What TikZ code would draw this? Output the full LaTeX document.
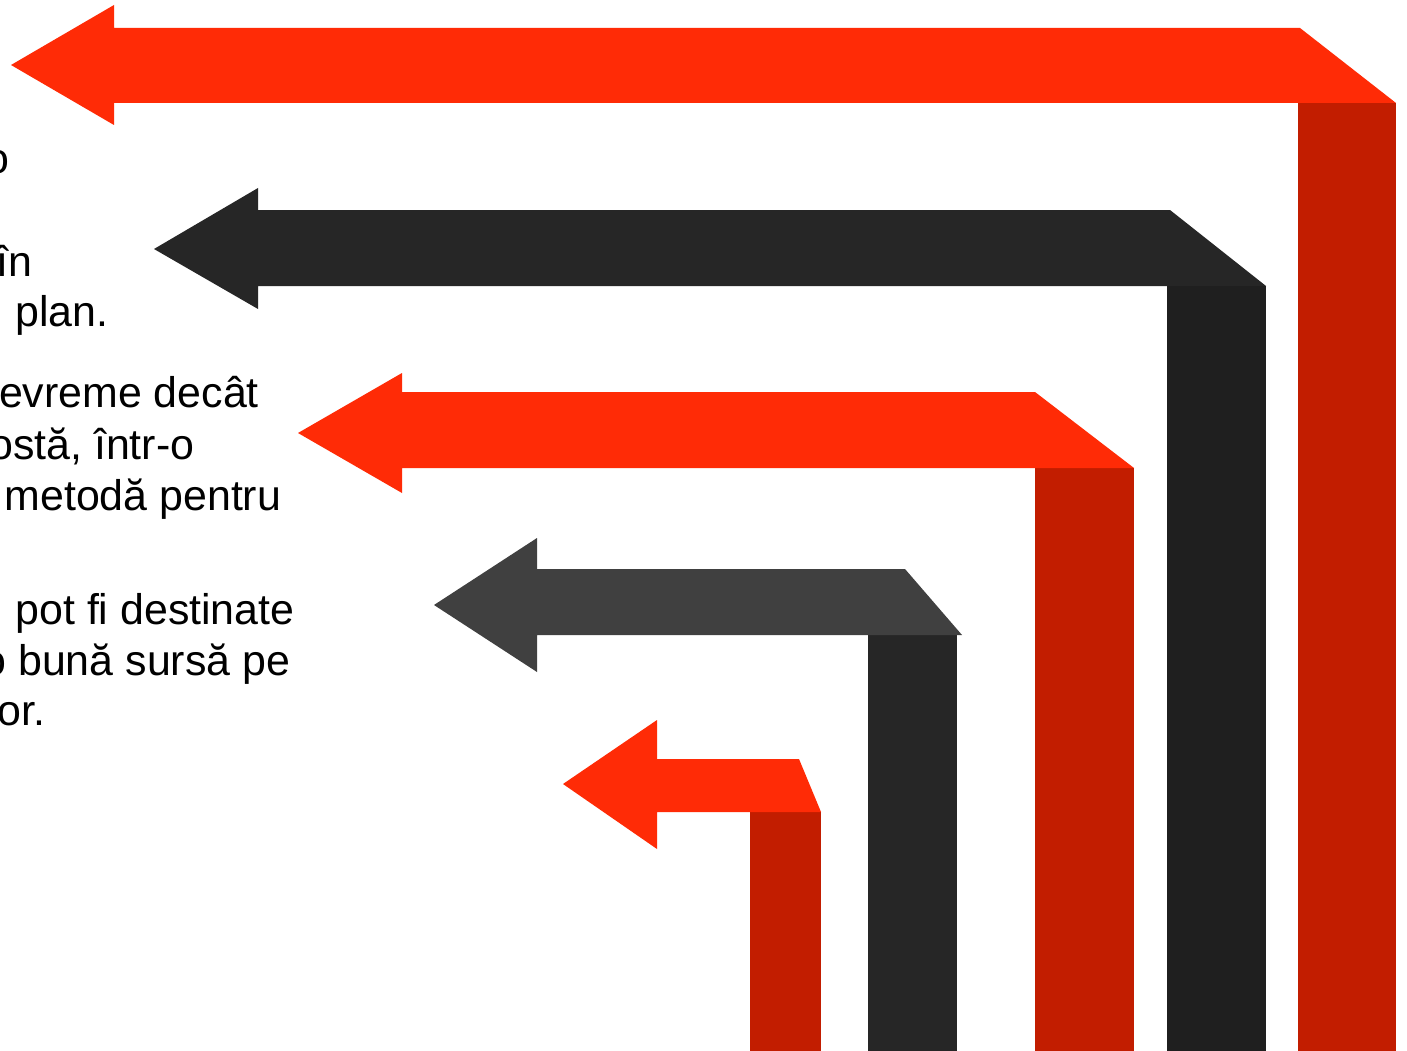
\documentclass[tikz,border=0pt]{standalone}
\usepackage{fontspec}
\setmainfont{Liberation Sans}[Ligatures=NoCommon]
\definecolor{redA}{HTML}{FF2B06}
\definecolor{redB}{HTML}{C21D00}
\definecolor{darkA}{HTML}{262626}
\definecolor{darkB}{HTML}{1F1F1F}
\definecolor{grayA}{HTML}{404040}
\definecolor{grayB}{HTML}{262626}
\tikzset{
  txt/.style={anchor=base west, inner sep=0pt, outer sep=0pt, text=black,
    font=\fontsize{42.9}{51}\selectfont},
}
\begin{document}
\begin{tikzpicture}[x=1pt,y=-1pt]
\useasboundingbox (0,0) rectangle (1407,1051);
\clip (0,0) rectangle (1407,1051);
\fill[white] (0,0) rectangle (1407,1051);
% arrow 1 (top, red)
\fill[redB] (1298,103) rectangle (1396,1051);
\fill[redA] (11,65) -- (114,5) -- (114,28) -- (1300,28) -- (1396,103) -- (114,103) -- (114,125) -- cycle;
% arrow 2 (dark)
\fill[darkB] (1167,286) rectangle (1266,1051);
\fill[darkA] (154,249) -- (258,188) -- (258,210) -- (1170,210) -- (1266,286) -- (258,286) -- (258,309) -- cycle;
% arrow 3 (red)
\fill[redB] (1035,468) rectangle (1134,1051);
\fill[redA] (298,433) -- (402,373) -- (402,392) -- (1035,392) -- (1134,468) -- (402,468) -- (402,493) -- cycle;
% arrow 4 (gray)
\fill[grayB] (868,635) rectangle (957,1051);
\fill[grayA] (434,605) -- (537,538) -- (537,569) -- (905,569) -- (962,635) -- (537,635) -- (537,672) -- cycle;
% arrow 5 (small red)
\fill[redB] (750,812) rectangle (821,1051);
\fill[redA] (563,784) -- (657,720) -- (657,759) -- (799,759) -- (821,812) -- (657,812) -- (657,849) -- cycle;
% texts (cut at the left edge, as in the reference)
\node[txt] (t1) at (-14.5,174) {o};
\node[txt] (t2) at (-3,276) {în};
\node[txt] (t3) at (15.5,326) {plan.};
\node[txt] (t4) at (-1,407) {evreme decât};
\node[txt] (t5) at (-10.8,459) {ostă, într-o};
\node[txt] (t6) at (4.5,510) {metodă pentru};
\node[txt] (t7) at (15.5,624) {pot fi destinate};
\node[txt] (t8) at (-17.5,675) {o bună sursă pe};
\node[txt] (t9) at (-2.6,725) {or.};
\end{tikzpicture}
\end{document}
